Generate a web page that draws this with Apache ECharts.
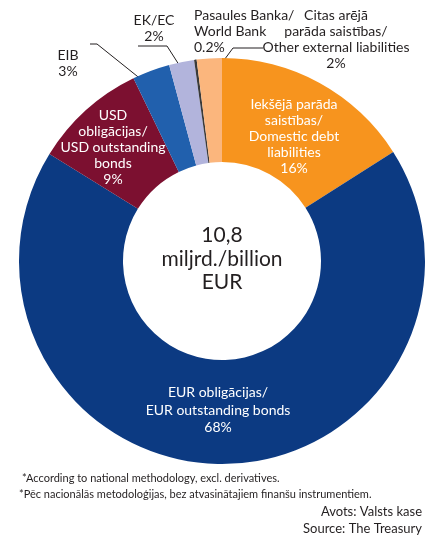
<!DOCTYPE html>
<html>
<head>
<meta charset="utf-8">
<script src="https://cdn.jsdelivr.net/npm/echarts@6/dist/echarts.min.js"></script>
<style>
  html, body { margin: 0; padding: 0; background: #ffffff; }
  #chart { width: 428px; height: 540px; }
</style>
</head>
<body>
<div id="chart"></div>
<script>
// Debt structure by instrument, % of total (clockwise from 12 o'clock)
const sliceNames = [
  'Iekšējā parāda\nsaistības/\nDomestic debt\nliabilities',
  'EUR obligācijas/\nEUR outstanding bonds',
  'USD\nobligācijas/\nUSD outstanding\nbonds',
  'EIB',
  'EK/EC',
  'Pasaules Banka/\nWorld Bank',
  'Citas arējā\nparāda saistības/\nOther external liabilities'
];
const sliceShares = [16, 68, 9, 3, 2, 0.2, 2];
const sliceColors = ['#f7941e', '#0c3a82', '#7c1030', '#2160ad', '#b2b4dc', '#3a3a3a', '#fbb67d'];

const totalLines = ['10,8', 'miljrd./billion', 'EUR'];
const footnoteLines = [
  '*According to national methodology, excl. derivatives.',
  '*Pēc nacionālās metodoloģijas, bez atvasinātajiem finanšu instrumentiem.'
];
const sourceLines = ['Avots: Valsts kase', 'Source: The Treasury'];

const FONT = 'Lato, "Open Sans", "Noto Sans", sans-serif';
const INK = '#231f20';
const CENTER = [222, 261];
const R_OUT = 203, R_IN = 99;

// Label placement: inside labels use (x, y) as the text centre;
// outside labels carry their leader-line shape (inset radius, elbow, end).
const labelPlace = [
  { inside: true, x: 294, y: 136, lh: 16 },
  { inside: true, x: 218, y: 410, lh: 17.5 },
  { inside: true, x: 113, y: 147, lh: 16 },
  { x: 68,  y: 47,  align: 'center', inset: 178, elbow: [97, 44],  end: [90, 44] },
  { x: 154, y: 12,  align: 'center', inset: 193, elbow: [167, 46], end: [138, 46] },
  { x: 194, y: 7,   align: 'left',   inset: 162 },
  { x: 336, y: 7,   align: 'center', inset: 183, elbow: [233, 48], end: [263, 48] }
];

const pieData = sliceNames.map((name, i) => {
  const p = labelPlace[i];
  return {
    name: name,
    value: sliceShares[i],
    itemStyle: { color: sliceColors[i] },
    label: p.inside
      ? { position: 'inside', color: '#ffffff', lineHeight: p.lh }
      : { position: 'outside', color: INK, lineHeight: 16, align: p.align },
    labelLine: { show: !p.inside }
  };
});

const chart = echarts.init(document.getElementById('chart'), null, { renderer: 'canvas' });

chart.setOption({
  backgroundColor: '#ffffff',
  animation: false,
  series: [{
    type: 'pie',
    center: CENTER,
    radius: [R_IN, R_OUT],
    startAngle: 90,
    clockwise: true,
    avoidLabelOverlap: false,
    emphasis: { disabled: true },
    itemStyle: { borderWidth: 0 },
    label: {
      fontFamily: FONT,
      fontSize: 14,
      formatter: (p) => p.name + '\n' + p.value + '%'
    },
    labelLine: {
      show: true,
      length: 10,
      length2: 10,
      lineStyle: { color: INK, width: 1 }
    },
    labelLayout: function (params) {
      const p = labelPlace[params.dataIndex];
      if (p.inside) {
        return { x: p.x, y: p.y, align: 'center', verticalAlign: 'middle' };
      }
      const out = { x: p.x, y: p.y, align: p.align, verticalAlign: 'top' };
      const pts = params.labelLinePoints;
      if (pts && pts.length) {
        // first guide point sits on the outer rim at the slice's mid angle
        const rim = pts[0];
        const k = p.inset / R_OUT;
        const inner = [CENTER[0] + (rim[0] - CENTER[0]) * k, CENTER[1] + (rim[1] - CENTER[1]) * k];
        out.labelLinePoints = p.elbow ? [inner, p.elbow, p.end] : [inner, rim, rim];
      }
      return out;
    },
    data: pieData
  }],
  graphic: [
    {
      type: 'text', x: CENTER[0], y: 259, silent: true,
      style: {
        text: totalLines.join('\n'), align: 'center', verticalAlign: 'middle',
        font: '21px ' + FONT, lineHeight: 23.5, fill: INK
      }
    },
    {
      type: 'text', x: 22, y: 478, silent: true,
      style: { text: footnoteLines[0], align: 'left', verticalAlign: 'middle', font: '11px ' + FONT, fill: INK }
    },
    {
      type: 'text', x: 19, y: 494, silent: true,
      style: { text: footnoteLines[1], align: 'left', verticalAlign: 'middle', font: '11px ' + FONT, fill: INK }
    },
    {
      type: 'text', x: 422, y: 512, silent: true,
      style: { text: sourceLines[0], align: 'right', verticalAlign: 'middle', font: '13px ' + FONT, fill: INK }
    },
    {
      type: 'text', x: 422, y: 529, silent: true,
      style: { text: sourceLines[1], align: 'right', verticalAlign: 'middle', font: '13px ' + FONT, fill: INK }
    }
  ]
});
</script>
</body>
</html>
